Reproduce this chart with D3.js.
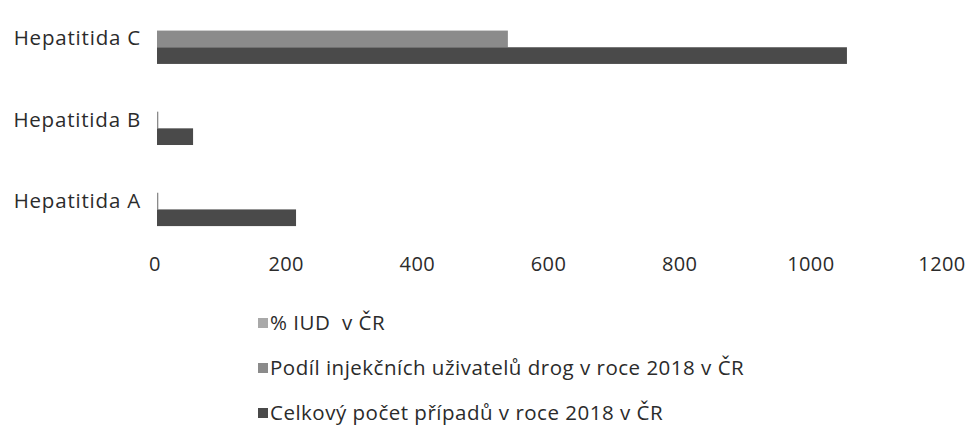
<!DOCTYPE html>
<meta charset="utf-8">
<script src="https://d3js.org/d3.v7.min.js"></script>
<style>
  body { margin: 0; background: #fff; }
  text { font-family: "Open Sans", sans-serif; fill: #2b2b2b; white-space: pre; }
</style>
<svg id="vis"></svg>
<script>
  // data
  var categories = ['Hepatitida C', 'Hepatitida B', 'Hepatitida A']
  var seriesNames = ['% IUD  v ČR', 'Podíl injekčních uživatelů drog v roce 2018 v ČR', 'Celkový počet případů v roce 2018 v ČR']
  var iudPct = [0, 0, 0]
  var podil = [535, 2, 2]
  var celkem = [1052, 55, 212]
  var xTicks = [0, 200, 400, 600, 800, 1000, 1200]
  var colors = ['#a9a9a9', '#8b8b8b', '#4a4a4a']

  var width = 970, height = 428

  var svg = d3.select('#vis')
    .attr('width', width)
    .attr('height', height)

  var x = d3.scaleLinear().domain([0, 1200]).range([157, 944])

  var y = d3.scaleBand()
    .domain(categories)
    .range([-1.5, 241.5])
    .paddingInner(0.383)
    .paddingOuter(0.19)

  var inner = d3.scaleBand()
    .domain(d3.range(seriesNames.length))
    .range([0, y.bandwidth()])

  var rows = categories.map(function (c, i) {
    return { cat: c, values: [iudPct[i], podil[i], celkem[i]] }
  })

  // bars
  var groups = svg.selectAll('g.cat')
    .data(rows)
    .enter().append('g')
      .attr('class', 'cat')
      .attr('transform', function (d) { return 'translate(0,' + y(d.cat) + ')' })

  groups.selectAll('rect')
    .data(function (d) { return d.values })
    .enter().append('rect')
      .attr('x', x(0))
      .attr('y', function (d, i) { return inner(i) })
      .attr('height', inner.bandwidth())
      .attr('width', function (d) { return Math.max(0, x(d) - x(0)) })
      .attr('fill', function (d, i) { return colors[i] })

  // category axis
  var yAxis = svg.append('g')
    .attr('transform', 'translate(141,0)')
    .call(d3.axisLeft(y).tickSize(0).tickPadding(0))
  yAxis.select('.domain').remove()
  yAxis.selectAll('text')
    .style('font-family', '"Open Sans", sans-serif')
    .style('font-size', '20.5px')
    .style('letter-spacing', '0.8px')
    .attr('fill', '#2b2b2b')

  // value axis
  var xAxis = svg.append('g')
    .attr('transform', 'translate(0,257)')
    .call(d3.axisBottom(x).tickValues(xTicks).tickFormat(d3.format('d')).tickSize(0).tickPadding(0))
  xAxis.select('.domain').remove()
  xAxis.selectAll('text')
    .style('font-family', '"Open Sans", sans-serif')
    .style('font-size', '20px')
    .style('letter-spacing', '0.4px')
    .attr('fill', '#2b2b2b')
  xAxis.selectAll('.tick').attr('transform', function (d) { return 'translate(' + (x(d) - 2) + ',0)' })

  // legend
  var legend = svg.selectAll('g.leg')
    .data(seriesNames)
    .enter().append('g')
      .attr('class', 'leg')
      .attr('transform', function (d, i) { return 'translate(258,' + (323 + i * 45) + ')' })

  legend.append('rect')
    .attr('x', 0).attr('y', -5)
    .attr('width', 10).attr('height', 10)
    .attr('fill', function (d, i) { return colors[i] })

  legend.append('text')
    .attr('x', 12)
    .attr('dy', '0.35em')
    .style('font-size', '20.5px')
    .style('letter-spacing', '0.5px')
    .text(function (d) { return d })
</script>
